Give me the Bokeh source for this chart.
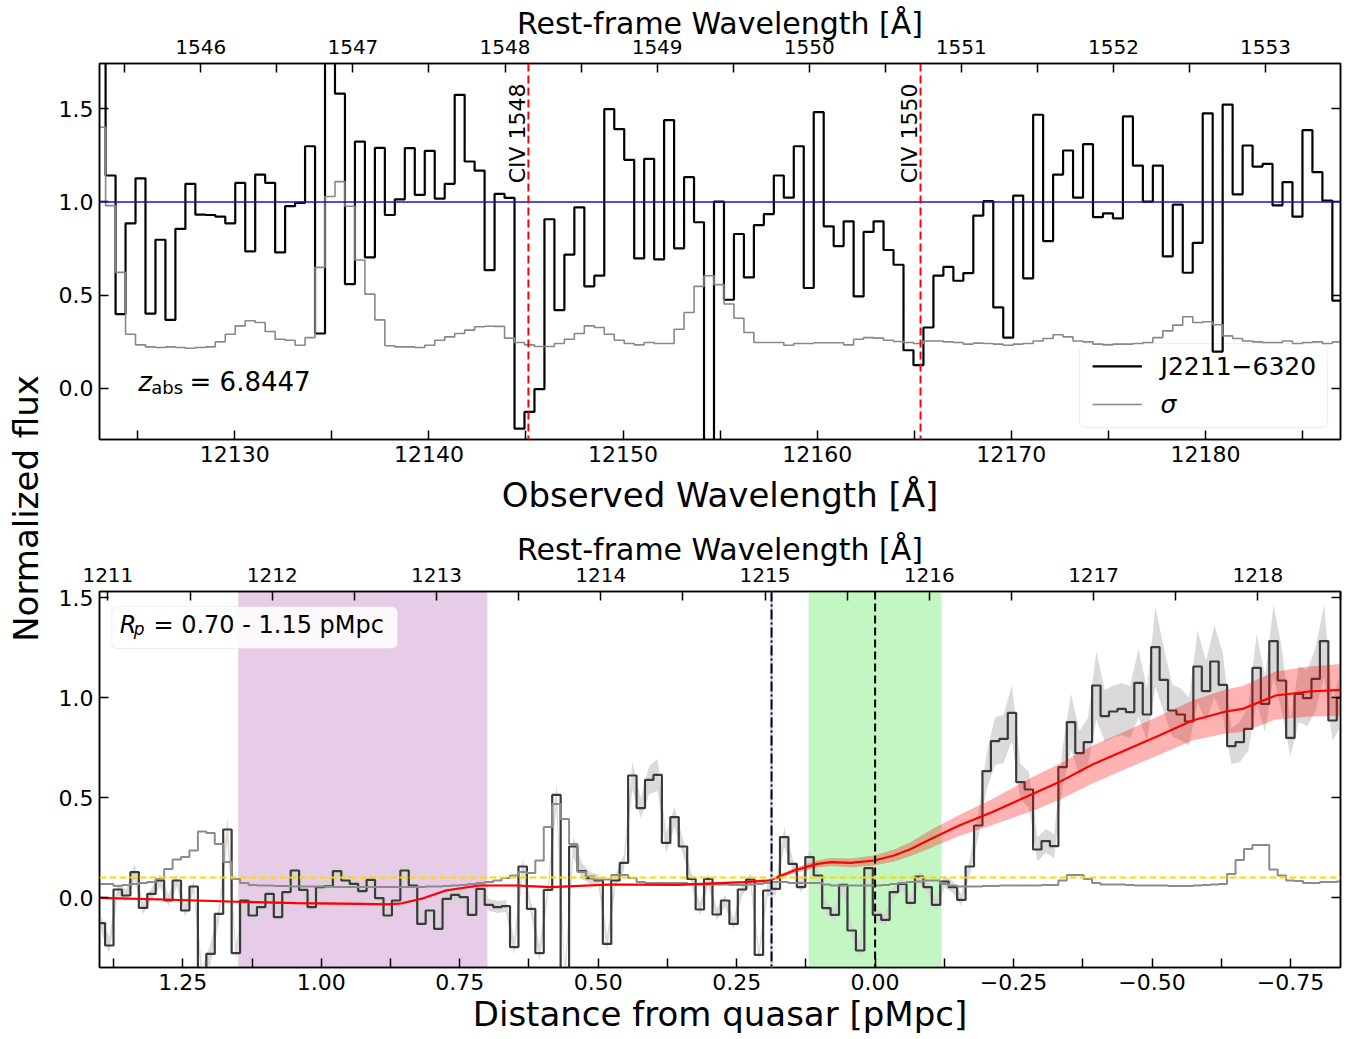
import numpy as np
from bokeh.plotting import figure
from bokeh.models import (Range1d, LinearAxis, FixedTicker, Span, BoxAnnotation,
                          BasicTickFormatter, CustomJSTickFormatter)
from bokeh.layouts import row, column
from bokeh.core.properties import value
from bokeh.embed import file_html
from bokeh.resources import INLINE

FONT = "DejaVu Sans"
Z_ABS = 6.8447

# ---------------- top panel data (CIV) ----------------
top_bin_start = 12122.83      # left edge of first wavelength bin [observed Å]
top_bin_width = 0.5138
top_flux = [1.85,
    1.142, 0.398, 0.885, 1.127, 0.401, 0.797, 0.367, 0.855, 1.097, 0.932,
    0.930, 0.921, 0.885, 1.102, 0.735, 1.147, 1.102, 0.729, 0.977, 0.995,
    1.299, 0.294, 1.85, 1.581, 0.559, 1.324, 0.703, 1.290, 0.930, 1.014,
    1.289, 1.038, 1.274, 1.018, 1.097, 1.575, 1.217, 1.168, 0.634, 1.043,
    1.022,
    -0.217, -0.127, -0.005, 0.907, 0.419, 0.717, 0.971, 0.547, 0.604, 1.498,
    1.391, 1.226, 0.697, 1.231, 0.692, 1.439, 0.751, 1.133, 0.891, -0.40,
    1.002, 0.475, 0.828, 0.595, 0.876, 0.935, 1.142, 1.023, 1.299, 0.538,
    1.482, 0.869, 0.763, 0.896, 0.493, 0.839, 0.896, 0.742, 0.663, 0.204,
    0.124, 0.326,
    0.604, 0.652, 0.577, 0.618, 0.927, 1.004, 0.434, 0.272, 1.034, 0.590,
    1.468, 0.790, 1.147, 1.276, 1.023, 1.310, 0.918, 0.939, 0.912, 1.459,
    1.195, 1.002, 1.195, 0.708, 0.986, 0.620, 0.780, 1.475, 0.197, 1.522,
    1.041, 1.303, 1.190, 1.204, 0.982, 1.106, 0.921, 1.385, 1.160, 1.007,
    0.47]
top_sigma = [1.401,
    0.980, 0.622, 0.290, 0.233, 0.222, 0.219, 0.222, 0.219, 0.215, 0.219,
    0.222, 0.249, 0.290, 0.335, 0.362, 0.353, 0.305, 0.263, 0.258, 0.231,
    0.272, 0.649, 1.029, 1.109, 0.977, 0.688, 0.505, 0.367, 0.228, 0.222,
    0.222, 0.219, 0.231, 0.258, 0.276, 0.294, 0.312, 0.330, 0.333, 0.332,
    0.269,
    0.246, 0.233, 0.224, 0.224, 0.240, 0.263, 0.294, 0.335, 0.326, 0.290,
    0.258, 0.240, 0.233, 0.246, 0.240, 0.240, 0.317, 0.407, 0.547, 0.604,
    0.556, 0.452, 0.376, 0.299, 0.246, 0.246, 0.246, 0.231, 0.240, 0.240,
    0.244, 0.244, 0.244, 0.233, 0.263, 0.272, 0.269, 0.258, 0.251, 0.246,
    0.240, 0.254,
    0.254, 0.249, 0.246, 0.237, 0.242, 0.240, 0.237, 0.231, 0.237, 0.240,
    0.254, 0.267, 0.287, 0.276, 0.254, 0.249, 0.237, 0.233, 0.237, 0.237,
    0.240, 0.246, 0.272, 0.308, 0.339, 0.384, 0.353, 0.357, 0.341, 0.281,
    0.267, 0.254, 0.249, 0.246, 0.246, 0.254, 0.240, 0.246, 0.249, 0.240,
    0.249]
civ_rest = [1548.195, 1550.770]
civ_labels = ["CIV 1548", "CIV 1550"]
obs_major = [12130, 12140, 12150, 12160, 12170, 12180]
obs_minor = [12125, 12135, 12145, 12155, 12165, 12175, 12185]
civ_rest_major = [1546, 1547, 1548, 1549, 1550, 1551, 1552, 1553]
civ_rest_minor = [1545.5, 1546.5, 1547.5, 1548.5, 1549.5, 1550.5, 1551.5, 1552.5, 1553.5]

# ---------------- bottom panel data (Lya proximity) ----------------
bot_bin_start = 1.40553        # distance of first bin edge [pMpc]
bot_bin_width = 0.015232
bot_flux = [-0.128,
    -0.240, 0.040, 0.010, 0.127, -0.052, 0.018, 0.085, -0.015, 0.085, -0.065,
    0.055, -0.40, -0.282, -0.082, 0.340, -0.278, -0.015, -0.090, -0.048, 0.018,
    -0.098, 0.027, 0.135, 0.038, -0.048, 0.052, 0.057, 0.132, 0.085, 0.068,
    0.032, 0.088, -0.003, -0.090, -0.015, 0.135, 0.060, -0.132, -0.065, -0.157,
    -0.007, 0.013, 0.002, -0.087, 0.043, -0.037, -0.048, -0.043, -0.248,
    0.155, -0.057, -0.278, 0.038, 0.513, -0.40, 0.255, 0.132, 0.097, 0.085,
    -0.232, 0.085, 0.173, 0.610, 0.447, 0.588, 0.613, 0.273, 0.402, 0.255,
    0.093, -0.060, 0.093, -0.085, -0.015, -0.132, 0.040, 0.090, -0.287, 0.035,
    0.043, 0.302, 0.168, 0.052, 0.202, 0.110, -0.053, -0.087, 0.063, -0.165,
    -0.265, 0.147, -0.087, -0.112, 0.027, 0.068, -0.027, 0.105, 0.052,
    -0.037, 0.080, 0.052, -0.012, 0.155, 0.360, 0.632, 0.782, 0.793, 0.923,
    0.577, 0.540, 0.240, 0.282, 0.257, 0.652, 0.877, 0.722, 0.777, 1.060,
    0.907, 0.930, 0.943, 0.927, 1.073, 0.915, 1.252, 1.088, 0.935, 0.915,
    0.880, 1.155, 1.032, 1.180, 1.063, 0.757, 0.777, 0.843, 1.148, 0.968,
    1.282, 1.085, 0.798, 1.018, 0.997, 1.093, 1.282, 0.885,
    0.998]
bot_sigma = [0.068,
    0.068, 0.057, 0.063, 0.068, 0.073, 0.077, 0.093, 0.143, 0.190, 0.202,
    0.235, 0.330, 0.323, 0.268, 0.177, 0.093, 0.072,
    0.063, 0.060, 0.060, 0.057, 0.057, 0.055, 0.055, 0.055, 0.055, 0.055,
    0.053, 0.053, 0.052, 0.052, 0.052, 0.052, 0.052, 0.052, 0.052, 0.052,
    0.052, 0.055, 0.055, 0.057, 0.060, 0.063, 0.067, 0.072, 0.077, 0.085,
    0.097, 0.110,
    0.127, 0.123, 0.185, 0.352, 0.468, 0.393, 0.268, 0.127, 0.105, 0.090,
    0.090, 0.113,
    0.113, 0.098, 0.077, 0.072, 0.072, 0.072, 0.072, 0.072, 0.068, 0.065,
    0.065, 0.065, 0.065, 0.063, 0.063, 0.065, 0.068, 0.072, 0.077, 0.077,
    0.072, 0.072, 0.072, 0.072, 0.065, 0.060, 0.060, 0.060, 0.060, 0.060,
    0.060, 0.063, 0.068, 0.072, 0.077, 0.080, 0.085,
    0.085, 0.068, 0.060, 0.055, 0.055, 0.055, 0.057, 0.057, 0.060, 0.060,
    0.060, 0.060, 0.060, 0.063, 0.063, 0.085, 0.113, 0.113, 0.093, 0.072,
    0.065, 0.065, 0.065, 0.063, 0.060, 0.060, 0.060, 0.060, 0.057, 0.057,
    0.057, 0.060, 0.063, 0.065, 0.068, 0.118, 0.188, 0.243, 0.263, 0.263,
    0.140, 0.110, 0.085, 0.082, 0.072, 0.072, 0.077, 0.077,
    0.080]
bot_err = [0.04,
    0.04, 0.03, 0.03, 0.04, 0.03, 0.03, 0.03, 0.03, 0.03, 0.03, 0.03,
    0.05, 0.05, 0.04, 0.06, 0.04,
    0.03, 0.03, 0.03, 0.03, 0.03, 0.03, 0.04, 0.03, 0.03, 0.03, 0.03,
    0.04, 0.03, 0.03, 0.03, 0.03, 0.03, 0.03, 0.03, 0.04, 0.03, 0.03,
    0.03, 0.03, 0.03, 0.03, 0.03, 0.03, 0.03, 0.03, 0.03, 0.03, 0.04,
    0.04, 0.03, 0.04, 0.03, 0.06, 0.05, 0.05, 0.04, 0.03, 0.03, 0.04, 0.03,
    0.04, 0.07, 0.05, 0.07, 0.08, 0.05, 0.05, 0.04, 0.03, 0.03,
    0.03, 0.03, 0.03, 0.03, 0.03, 0.03, 0.03, 0.03, 0.03, 0.05, 0.03, 0.03,
    0.04, 0.03, 0.03, 0.03, 0.03, 0.03, 0.04, 0.03, 0.03, 0.03, 0.03, 0.03,
    0.03, 0.03, 0.03,
    0.03, 0.03, 0.03, 0.03, 0.04,
    0.06, 0.09, 0.12, 0.12, 0.14, 0.09, 0.09, 0.06, 0.06, 0.06,
    0.10, 0.14, 0.11, 0.12, 0.17, 0.13, 0.13, 0.13, 0.13, 0.17,
    0.13, 0.20, 0.16, 0.13, 0.13, 0.12, 0.18, 0.15, 0.18, 0.16,
    0.09, 0.10, 0.11, 0.17, 0.14, 0.18, 0.16, 0.09, 0.14, 0.14,
    0.16, 0.18, 0.10,
    0.14]
model_dist = [1.40, 1.2866, 1.1664, 1.0459, 0.9255, 0.8800, 0.8563, 0.8172, 0.7751, 0.7150, 0.6487,
              0.5856, 0.4772, 0.3568, 0.2365, 0.1914, 0.1462, 0.1040, 0.0800, 0.0439, 0.0018,
              -0.0343, -0.0645, -0.1006, -0.1517, -0.2120, -0.2842, -0.3322, -0.3925, -0.4527, -0.5128,
              -0.5730, -0.6332, -0.6633, -0.7235, -0.7836, -0.8408]
model_flux = [-0.002, -0.010, -0.020, -0.028, -0.032, -0.034, -0.030, -0.005, 0.035, 0.060, 0.060,
              0.052, 0.065, 0.063, 0.077, 0.085, 0.135, 0.168, 0.177, 0.173, 0.185,
              0.210, 0.243, 0.293, 0.360, 0.427, 0.518, 0.577, 0.665, 0.738, 0.810,
              0.885, 0.930, 0.943, 1.010, 1.030, 1.038]
model_err = [0.005, 0.005, 0.005, 0.005, 0.005, 0.005, 0.005, 0.005, 0.005, 0.005, 0.005,
             0.005, 0.005, 0.005, 0.006, 0.008, 0.012, 0.018, 0.020, 0.022, 0.025,
             0.030, 0.035, 0.045, 0.053, 0.065, 0.085, 0.090, 0.095, 0.095, 0.097,
             0.100, 0.110, 0.115, 0.120, 0.125, 0.130]
rp_band = (0.70, 1.15)
green_band = (-0.12, 0.12)
dashdot_dist = 0.187
quasar_dist = 0.0
flux_level = 0.1
dist_major = [1.25, 1.0, 0.75, 0.5, 0.25, 0.0, -0.25, -0.5, -0.75]
dist_minor = [1.375, 1.125, 0.875, 0.625, 0.375, 0.125, -0.125, -0.375, -0.625]
lya_rest_major = [1211, 1212, 1213, 1214, 1215, 1216, 1217, 1218]
lya_rest_minor = [1211.5, 1212.5, 1213.5, 1214.5, 1215.5, 1216.5, 1217.5, 1218.5]
flux_ticks = [0.0, 0.5, 1.0, 1.5]

ONE_DEC = CustomJSTickFormatter(code="return tick.toFixed(1);")


def style_axis(ax, fs, standoff, lab_fs=None, lab_standoff=None):
    ax.major_tick_in = 9
    ax.major_tick_out = 0
    ax.minor_tick_in = 9
    ax.minor_tick_out = 0
    ax.major_tick_line_width = 1.5
    ax.minor_tick_line_width = 1.5
    ax.axis_line_width = 1.5
    ax.axis_line_color = "black"
    ax.major_tick_line_color = "black"
    ax.minor_tick_line_color = "black"
    ax.major_label_text_font = FONT
    ax.major_label_text_font_size = fs
    ax.major_label_text_color = "black"
    ax.major_label_standoff = standoff
    ax.axis_label_text_font = FONT
    ax.axis_label_text_font_style = "normal"
    ax.axis_label_text_color = "black"
    if lab_fs:
        ax.axis_label_text_font_size = lab_fs
    if lab_standoff is not None:
        ax.axis_label_standoff = lab_standoff


def blank_right_axis(p, ticks):
    ax = LinearAxis(ticker=FixedTicker(ticks=ticks),
                    major_label_overrides={t: "" for t in ticks})
    style_axis(ax, "0px", 0)
    p.add_layout(ax, "right")


def txt(p, x, y, s, size, style="normal", align="left", baseline="middle", angle=0.0):
    p.text(x=[x], y=[y], text=[s], text_font=value(FONT), text_font_size=size,
           text_font_style=style, text_align=align, text_baseline=baseline,
           angle=angle, text_color="black")


# ======================= TOP PANEL =======================
x_lo, x_hi = 12123.03, 12186.96
top = figure(width=1307, height=520, x_range=Range1d(x_lo, x_hi), y_range=Range1d(-0.275, 1.743),
             output_backend="svg", toolbar_location=None,
             min_border_left=49, min_border_right=17, min_border_top=63, min_border_bottom=81)
top.grid.visible = False
top.outline_line_color = "black"
top.outline_line_width = 1.5
top.background_fill_color = "white"

bx = top.below[0]
bx.ticker = FixedTicker(ticks=obs_major, minor_ticks=obs_minor)
bx.formatter = BasicTickFormatter(use_scientific=False)
bx.axis_label = "Observed Wavelength [Å]"
style_axis(bx, "22px", 6, "34px", 10)

ly = top.left[0]
ly.ticker = FixedTicker(ticks=flux_ticks)
ly.formatter = ONE_DEC
style_axis(ly, "22px", 6)

top.extra_x_ranges = {"rest": Range1d(1545.334, 1553.493)}
ax_t = LinearAxis(x_range_name="rest", axis_label="Rest-frame Wavelength [Å]",
                  ticker=FixedTicker(ticks=civ_rest_major, minor_ticks=civ_rest_minor),
                  formatter=BasicTickFormatter(use_scientific=False))
style_axis(ax_t, "20px", 10, "30px", -4)
top.add_layout(ax_t, "above")
blank_right_axis(top, flux_ticks)

n_t = len(top_flux)
t_edges = top_bin_start + top_bin_width * np.arange(n_t + 1)
top.step(x=t_edges, y=list(top_flux) + [top_flux[-1]], mode="after", line_color="black", line_width=2.2)
top.step(x=t_edges[:len(top_sigma) + 1], y=list(top_sigma) + [top_sigma[-1]], mode="after",
         line_color="#888888", line_width=1.6)

top.add_layout(Span(location=1.0, dimension="width", line_color="#1414c8", line_width=1.4))
for rw, lab in zip(civ_rest, civ_labels):
    xo = rw * (1 + Z_ABS)
    top.add_layout(Span(location=xo, dimension="height", line_color="red", line_width=2,
                        line_dash="8 4"))
    txt(top, xo - 0.55, 1.636, lab, "22px", align="right", baseline="middle", angle=np.pi / 2)

# z_abs annotation
txt(top, 12125.02, 0.032, "z", "26px", style="italic")
txt(top, 12125.70, 0.004, "abs", "18px")
txt(top, 12127.67, 0.035, "= 6.8447", "26px")

# legend (manual)
top.add_layout(BoxAnnotation(left=12173.52, right=12186.30, top=0.240, bottom=-0.211,
                             fill_color="white", fill_alpha=0.85, line_color="#cccccc",
                             line_width=1.2, border_radius=6, level="underlay"))
top.line(x=[12174.19, 12176.73], y=[0.117, 0.117], line_color="black", line_width=2.2)
top.line(x=[12174.19, 12176.73], y=[-0.087, -0.087], line_color="#888888", line_width=1.6)
txt(top, 12177.69, 0.117, "J2211\u22126320", "25px")
txt(top, 12177.69, -0.087, "\u03c3", "25px", style="italic")

# ======================= BOTTOM PANEL =======================
d_lo, d_hi = 1.4004, -0.8403
bot = figure(width=1307, height=519, x_range=Range1d(d_lo, d_hi), y_range=Range1d(-0.35, 1.53),
             output_backend="svg", toolbar_location=None,
             min_border_left=49, min_border_right=17, min_border_top=71, min_border_bottom=72)
bot.grid.visible = False
bot.outline_line_color = "black"
bot.outline_line_width = 1.5

bbx = bot.below[0]
bbx.ticker = FixedTicker(ticks=dist_major, minor_ticks=dist_minor)
bbx.formatter = CustomJSTickFormatter(code="return (tick < -1e-9 ? '\u2212' : '') + Math.abs(tick).toFixed(2);")
bbx.axis_label = "Distance from quasar [pMpc]"
style_axis(bbx, "22px", 6, "34px", 1)

bly = bot.left[0]
bly.ticker = FixedTicker(ticks=flux_ticks)
bly.formatter = ONE_DEC
style_axis(bly, "22px", 6)

bot.extra_x_ranges = {"rest": Range1d(1210.949, 1218.503)}
bax_t = LinearAxis(x_range_name="rest", axis_label="Rest-frame Wavelength [Å]",
                   ticker=FixedTicker(ticks=lya_rest_major, minor_ticks=lya_rest_minor),
                   formatter=BasicTickFormatter(use_scientific=False))
style_axis(bax_t, "20px", 10, "30px", -2)
bot.add_layout(bax_t, "above")
blank_right_axis(bot, flux_ticks)

# shaded regions
bot.add_layout(BoxAnnotation(left=rp_band[0], right=rp_band[1], fill_color="purple", fill_alpha=0.2,
                             line_color=None, level="underlay"))
bot.add_layout(BoxAnnotation(left=green_band[0], right=green_band[1], fill_color="#90ee90",
                             fill_alpha=0.55, line_color=None, level="underlay"))
# R_p label box (over the purple band)
bot.add_layout(BoxAnnotation(left=1.3782, right=0.8618, top=1.455, bottom=1.245,
                             fill_color="white", fill_alpha=0.85, line_color="#cccccc",
                             line_width=1.2, border_radius=6, level="underlay"))

n_b = len(bot_flux)
b_edges = bot_bin_start - bot_bin_width * np.arange(n_b + 1)
b_cent = bot_bin_start - bot_bin_width * (np.arange(n_b) + 0.5)
bf = np.array(bot_flux)
be = np.array(bot_err[:n_b])
bot.varea(x=b_cent[:len(be)], y1=bf[:len(be)] - be, y2=bf[:len(be)] + be,
          fill_color="#d3d3d3", fill_alpha=0.85)
bot.step(x=b_edges, y=list(bot_flux) + [bot_flux[-1]], mode="after", line_color="#3a3a3a",
         line_width=2.2)
bot.step(x=b_edges[:len(bot_sigma) + 1], y=list(bot_sigma) + [bot_sigma[-1]], mode="after",
         line_color="#8c8c8c", line_width=2.0)

mf = np.array(model_flux)
me = np.array(model_err)
bot.varea(x=model_dist, y1=mf - me, y2=mf + me, fill_color="red", fill_alpha=0.3)
bot.line(x=model_dist, y=model_flux, line_color="red", line_width=2.2)

bot.add_layout(Span(location=flux_level, dimension="width", line_color="gold", line_width=2,
                    line_dash="7 3"))
bot.add_layout(Span(location=dashdot_dist, dimension="height", line_color="#b8c0ff", line_width=2))
bot.add_layout(Span(location=dashdot_dist, dimension="height", line_color="black", line_width=2,
                    line_dash="10 3 2 3"))
bot.add_layout(Span(location=quasar_dist, dimension="height", line_color="black", line_width=2,
                    line_dash="8 4"))

txt(bot, 1.3637, 1.362, "R", "24px", style="italic")
txt(bot, 1.3384, 1.341, "p", "17px", style="italic")
txt(bot, 1.3030, 1.362, "= 0.70 - 1.15 pMpc", "24px")

# ======================= shared y label =======================
lab = figure(width=50, height=1039, x_range=Range1d(0, 50), y_range=Range1d(0, 1039),
             output_backend="svg", toolbar_location=None, x_axis_type=None, y_axis_type=None,
             min_border=0, min_border_left=0, min_border_right=0, min_border_top=0,
             min_border_bottom=0)
lab.grid.visible = False
lab.outline_line_color = None
lab.text(x=[25], y=[1039 - 508], text=["Normalized flux"], angle=np.pi / 2, text_align="center",
         text_baseline="middle", text_font=value(FONT), text_font_size="34px", text_color="black")

layout = row(lab, column(top, bot))
open("out.html", "w").write(file_html(layout, INLINE))
